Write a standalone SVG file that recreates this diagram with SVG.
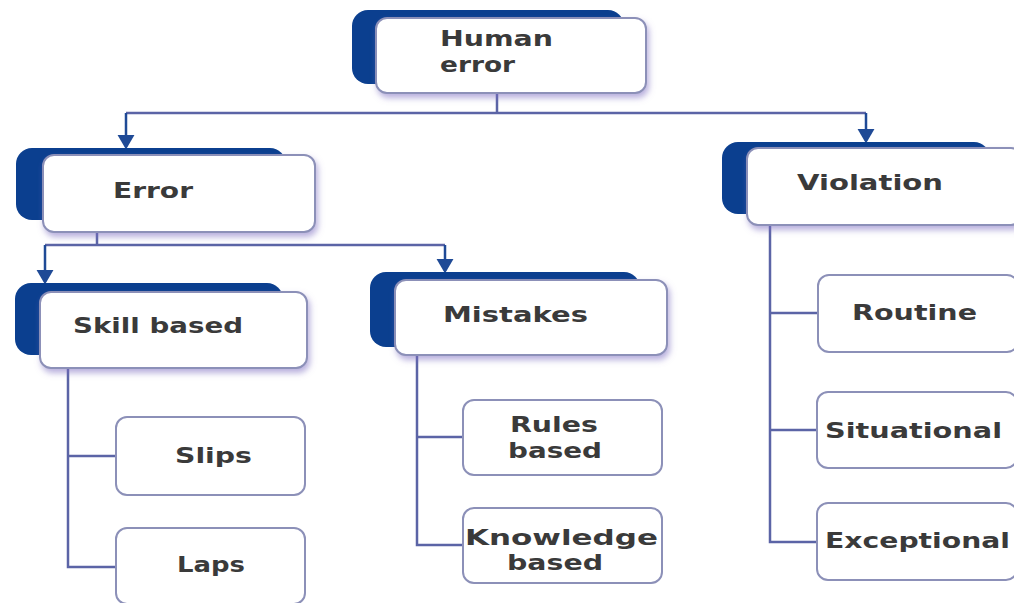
<svg xmlns="http://www.w3.org/2000/svg" width="1014" height="603" viewBox="0 0 1014 603">
  <style>
    .back { fill: #0b3f8f; }
    .box { fill: #ffffff; stroke: #8c90b8; stroke-width: 2; filter: url(#shade); }
    .leaf { fill: #ffffff; stroke: #8c90b8; stroke-width: 2; }
    .lbl { font-family: "DejaVu Sans", Verdana, sans-serif; font-weight: bold; font-size: 22px; fill: #3a3a3a; }
    .wire { fill: none; stroke: #5b64a6; stroke-width: 2.5; }
    .arrow { fill: none; stroke: #1f4a96; stroke-width: 2.5; marker-end: url(#head); }
  </style>
  <defs>
    <marker id="head" viewBox="0 0 12 14" refX="10" refY="7" markerWidth="6" markerHeight="7" orient="auto" markerUnits="strokeWidth">
      <path d="M0,0 L12,7 L0,14 Z" fill="#1f4a96"/>
    </marker>
    <filter id="shade" x="-10%" y="-20%" width="125%" height="150%">
      <feDropShadow dx="2" dy="4" stdDeviation="3" flood-color="#7c6cc0" flood-opacity="0.55"/>
    </filter>
  </defs>
  <rect width="1014" height="603" fill="#ffffff"/>

  <!-- connectors -->
  <g id="connectors">
    <path class="wire" d="M497,93 V113"/>
    <path class="wire" d="M126,113 H866"/>
    <path class="arrow" d="M126,113 V147"/>
    <path class="arrow" d="M866,113 V141"/>
    <path class="wire" d="M97,232 V245"/>
    <path class="wire" d="M45,245 H445"/>
    <path class="arrow" d="M45,245 V282"/>
    <path class="arrow" d="M445,245 V271"/>
    <path class="wire" d="M68,368 V567 H116"/>
    <path class="wire" d="M68,456 H116"/>
    <path class="wire" d="M417,355 V545 H463"/>
    <path class="wire" d="M417,437 H463"/>
    <path class="wire" d="M770,225 V542 H818"/>
    <path class="wire" d="M770,313 H818"/>
    <path class="wire" d="M770,430 H818"/>
  </g>

  <g id="human-error">
    <rect class="back" x="352" y="10" width="272" height="74" rx="16"/>
    <rect class="box" x="376" y="18" width="270" height="75" rx="11"/>
    <text class="lbl" x="440" y="46" textLength="113" lengthAdjust="spacingAndGlyphs">Human</text>
    <text class="lbl" x="440" y="72" textLength="75" lengthAdjust="spacingAndGlyphs">error</text>
  </g>

  <g id="error">
    <rect class="back" x="16" y="148" width="270" height="72" rx="16"/>
    <rect class="box" x="43" y="155" width="272" height="77" rx="11"/>
    <text class="lbl" x="113" y="198" textLength="80" lengthAdjust="spacingAndGlyphs">Error</text>
  </g>

  <g id="violation">
    <rect class="back" x="722" y="142" width="268" height="72" rx="16"/>
    <rect class="box" x="747" y="148" width="275" height="77" rx="11"/>
    <text class="lbl" x="797" y="190" textLength="146" lengthAdjust="spacingAndGlyphs">Violation</text>
  </g>

  <g id="skill-based">
    <rect class="back" x="15" y="283" width="268" height="72" rx="16"/>
    <rect class="box" x="40" y="292" width="267" height="76" rx="11"/>
    <text class="lbl" x="73" y="333" textLength="170" lengthAdjust="spacingAndGlyphs">Skill based</text>
  </g>

  <g id="mistakes">
    <rect class="back" x="370" y="272" width="270" height="75" rx="16"/>
    <rect class="box" x="395" y="280" width="272" height="75" rx="11"/>
    <text class="lbl" x="443" y="322" textLength="145" lengthAdjust="spacingAndGlyphs">Mistakes</text>
  </g>

  <g id="slips">
    <rect class="leaf" x="116" y="417" width="189" height="78" rx="11"/>
    <text class="lbl" x="175" y="463" textLength="77" lengthAdjust="spacingAndGlyphs">Slips</text>
  </g>

  <g id="laps">
    <rect class="leaf" x="116" y="528" width="189" height="76" rx="11"/>
    <text class="lbl" x="177" y="572" textLength="68" lengthAdjust="spacingAndGlyphs">Laps</text>
  </g>

  <g id="rules-based">
    <rect class="leaf" x="463" y="400" width="199" height="75" rx="11"/>
    <text class="lbl" x="510" y="432" textLength="88" lengthAdjust="spacingAndGlyphs">Rules</text>
    <text class="lbl" x="508" y="458" textLength="94" lengthAdjust="spacingAndGlyphs">based</text>
  </g>

  <g id="knowledge-based">
    <rect class="leaf" x="463" y="508" width="199" height="75" rx="11"/>
    <text class="lbl" x="465" y="545" textLength="193" lengthAdjust="spacingAndGlyphs">Knowledge</text>
    <text class="lbl" x="507" y="570" textLength="96" lengthAdjust="spacingAndGlyphs">based</text>
  </g>

  <g id="routine">
    <rect class="leaf" x="818" y="275" width="200" height="77" rx="11"/>
    <text class="lbl" x="852" y="320" textLength="125" lengthAdjust="spacingAndGlyphs">Routine</text>
  </g>

  <g id="situational">
    <rect class="leaf" x="817" y="392" width="200" height="76" rx="11"/>
    <text class="lbl" x="825" y="438" textLength="177" lengthAdjust="spacingAndGlyphs">Situational</text>
  </g>

  <g id="exceptional">
    <rect class="leaf" x="817" y="503" width="200" height="77" rx="11"/>
    <text class="lbl" x="825" y="548" textLength="185" lengthAdjust="spacingAndGlyphs">Exceptional</text>
  </g>
</svg>
